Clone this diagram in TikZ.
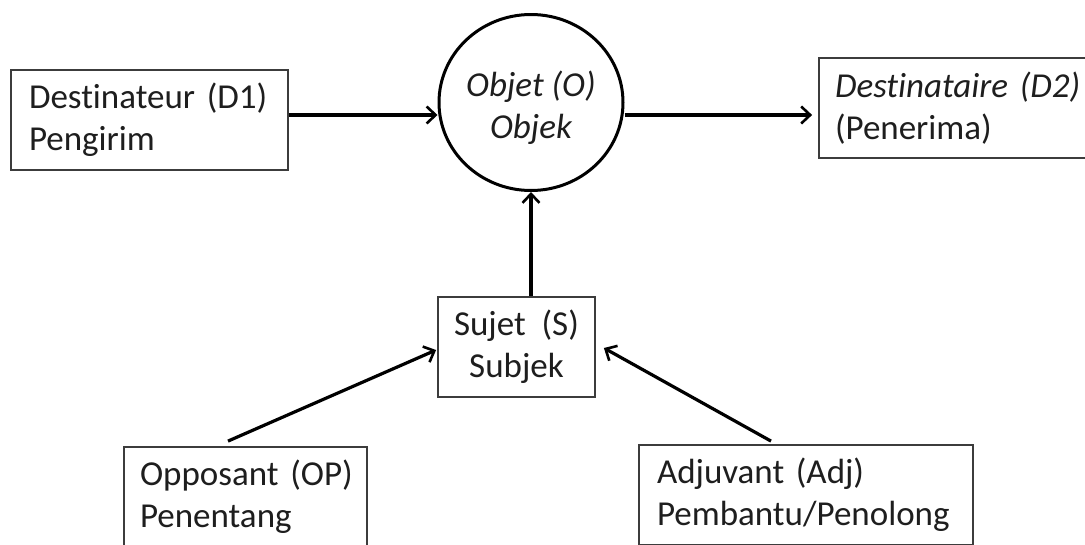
\documentclass[tikz,border=0pt]{standalone}
\usepackage{fontspec}
\setmainfont{Carlito}[Ligatures=NoCommon]
\usetikzlibrary{shapes.geometric,arrows.meta}
\definecolor{ink}{HTML}{1E1E1E}
\definecolor{frame}{HTML}{3C3C3C}
\tikzset{
  lbl/.style={font=\fontsize{35}{42}\selectfont, text=ink},
  box/.style={draw=frame, line width=1.8pt, rectangle, inner ysep=0pt,
              minimum height=100pt, lbl},
  leftbox/.style={box, align=left},
  midbox/.style={box, align=center},
  link/.style={draw=black, line width=3.2pt,
               -{Straight Barb[length=9pt,width=17pt,line width=2.6pt]}},
}
\begin{document}
\begin{tikzpicture}[x=1pt,y=-1pt]
\useasboundingbox (0,0) rectangle (1085,544);
\clip (0,0) rectangle (1085,544);
\fill[white] (0,0) rectangle (1085,544);

% the six actants (lines kept in \mbox so they never wrap)
\node[leftbox, minimum width=275pt, text width=241pt, inner xsep=18pt]
  (d1) at (149.5,120) {\mbox{Destinateur (D1)}\\\mbox{Pengirim}};
\node[draw=black, line width=3pt, ellipse, inner sep=0pt,
      minimum width=184pt, minimum height=176pt]
  (obj) at (531,102.5) {};
\node[lbl, align=center, inner sep=0pt] (objtxt) at ([yshift=-5pt]obj.center)
  {\itshape Objet (O)\\\itshape Objek};
\node[leftbox, minimum width=290pt, text width=258pt, inner xsep=16pt]
  (d2) at (964,108) {\mbox{\itshape Destinataire (D2)}\\\mbox{(Penerima)}};
\node[midbox, minimum width=157pt, inner xsep=4pt]
  (subj) at (516.5,347) {Sujet\ \ (S)\\Subjek};
\node[leftbox, minimum width=243pt, text width=211pt, inner xsep=16pt]
  (op) at (245.5,497) {\mbox{Opposant (OP)}\\\mbox{Penentang}};
\node[leftbox, minimum width=334pt, text width=298pt, inner xsep=18pt]
  (adj) at (806,495) {\mbox{Adjuvant (Adj)}\\\mbox{Pembantu/Penolong}};

% connectors
\draw[link] ([yshift=5pt]d1.east) -- ([yshift=-12.5pt]obj.west);
\draw[link] ([yshift=-12.5pt]obj.east) -- ([xshift=-6pt,yshift=-7pt]d2.west);
\draw[link] (subj.north -| obj.south) -- (obj.south);
\draw[link] ([xshift=-17.5pt,yshift=5pt]op.north) -- ([xshift=-1pt,yshift=-3pt]subj.west);
\draw[link] ([xshift=-35pt,yshift=3pt]adj.north) -- ([xshift=8pt,yshift=-1pt]subj.east);
\end{tikzpicture}
\end{document}
